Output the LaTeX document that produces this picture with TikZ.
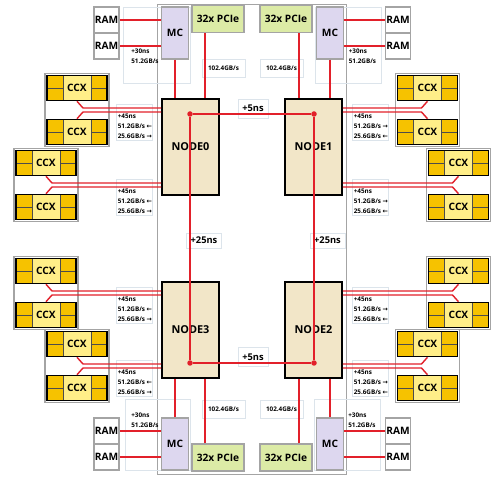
\documentclass[tikz,border=0pt]{standalone}
\usepackage{fontspec}
\setmainfont{Open Sans}
\newfontfamily\arrowfont{DejaVu Sans}
\usetikzlibrary{positioning,calc}

\definecolor{linkred}{HTML}{E2202A}
\definecolor{nodefill}{HTML}{F2E6C8}
\definecolor{mcfill}{HTML}{DDD7EF}
\definecolor{pciefill}{HTML}{DCEBA6}
\definecolor{ccxgold}{HTML}{F6C200}
\definecolor{ccxlight}{HTML}{FFEE88}
\definecolor{faint}{HTML}{DCE4EB}
\definecolor{boxgray}{HTML}{A4A4A4}

\tikzset{
  chassis/.style={draw=boxgray,line width=0.5pt,minimum width=3.78cm,minimum height=9.4cm,inner sep=0pt},
  numa/.style={draw=black,line width=1.1pt,fill=nodefill,minimum width=1.14cm,minimum height=1.92cm,inner sep=0pt,font=\fontsize{6.2}{7}\selectfont\bfseries},
  mcbox/.style={draw=boxgray,line width=0.6pt,fill=mcfill,minimum width=0.54cm,minimum height=1.04cm,inner sep=0pt,font=\fontsize{5.8}{7}\selectfont\bfseries},
  pciebox/.style={draw=boxgray,line width=0.6pt,fill=pciefill,minimum width=1.04cm,minimum height=0.54cm,inner sep=0pt,font=\fontsize{5.8}{7}\selectfont\bfseries},
  rambox/.style={draw=boxgray,line width=0.6pt,fill=white,minimum width=0.5cm,minimum height=0.52cm,inner sep=0pt,font=\fontsize{5.8}{7}\selectfont\bfseries},
  ccxframe/.style={draw=boxgray,line width=1pt,fill=white,minimum width=1.28cm,minimum height=1.46cm,inner sep=0pt},
  ccx/.style={draw=black,line width=0.9pt,fill=ccxgold,minimum width=1.2cm,minimum height=0.5cm,inner sep=0pt,
    font=\fontsize{5.8}{7}\selectfont\bfseries,
    path picture={
      \fill[ccxlight] ([xshift=0.32cm]path picture bounding box.south west) rectangle ([xshift=-0.32cm]path picture bounding box.north east);
      \draw[line width=0.4pt,black!70]
        ([xshift=0.32cm]path picture bounding box.south west) -- ([xshift=0.32cm]path picture bounding box.north west)
        ([xshift=-0.32cm]path picture bounding box.south east) -- ([xshift=-0.32cm]path picture bounding box.north east)
        (path picture bounding box.west) -- ([xshift=0.32cm]path picture bounding box.west)
        (path picture bounding box.east) -- ([xshift=-0.32cm]path picture bounding box.east);
    }},
  link/.style={draw=linkred,line width=1.1pt},
  fork/.style={draw=linkred,line width=0.8pt},
  hop/.style={circle,fill=linkred,inner sep=0pt,minimum size=0.11cm},
  faintbox/.style={draw=faint,line width=0.5pt},
  lat/.style={faintbox,inner sep=0pt,font=\fontsize{5.3}{6}\selectfont\bfseries},
  bw/.style={faintbox,inner sep=0pt,minimum width=0.86cm,minimum height=0.36cm,font=\fontsize{3.6}{5.7}\selectfont\bfseries},
  note/.style={inner sep=0pt,align=left,font=\fontsize{3.6}{5.7}\selectfont\bfseries},
}

\begin{document}
\begin{tikzpicture}[x=0.02cm,y=-0.02cm]
\useasboundingbox (0,0) rectangle (500,479);

\node[chassis] (socket) at (252.3,239) {};

% memory side boxes
\draw[faintbox] (123,7) rectangle (190,83);
\draw[faintbox] (315,7) rectangle (381,83);
\draw[faintbox] (125,399) rectangle (190,470);
\draw[faintbox] (314,399) rectangle (380,470);

% numa nodes
\node[numa] (node0) at (190.5,147) {NODE0};
\node[numa] (node1) at (313.5,147) {NODE1};
\node[numa] (node3) at (190.5,330) {NODE3};
\node[numa] (node2) at (313.5,330) {NODE2};

% memory controllers, pcie, dimms
\node[mcbox] (mc0) at (175,33) {MC};
\node[mcbox] (mc1) at (330,33) {MC};
\node[mcbox] (mc3) at (175,444) {MC};
\node[mcbox] (mc2) at (330,444) {MC};
\node[pciebox] (pcie0) at (218,19) {32x PCIe};
\node[pciebox] (pcie1) at (286,19) {32x PCIe};
\node[pciebox] (pcie3) at (218,457.5) {32x PCIe};
\node[pciebox] (pcie2) at (286,457.5) {32x PCIe};
\node[rambox] (ram0a) at (106.5,20) {RAM};
\node[rambox] (ram0b) at (106.5,46) {RAM};
\node[rambox] (ram1a) at (398,20) {RAM};
\node[rambox] (ram1b) at (398,46) {RAM};
\node[rambox] (ram3a) at (106.5,431) {RAM};
\node[rambox] (ram3b) at (106.5,457) {RAM};
\node[rambox] (ram2a) at (398,431) {RAM};
\node[rambox] (ram2b) at (398,457) {RAM};

\foreach \r/\m in {ram0a/mc0,ram0b/mc0,ram3a/mc3,ram3b/mc3}
  \draw[link] (\r.east) -- (\r.east -| \m.west);
\foreach \r/\m in {ram1a/mc1,ram1b/mc1,ram2a/mc2,ram2b/mc2}
  \draw[link] (\r.west) -- (\r.west -| \m.east);

\node[note,anchor=north west] (mem0) at (131,48.5) {+30ns\\51.2GB/s};
\node[note,anchor=north west] (mem1) at (348.5,48.5) {+30ns\\51.2GB/s};
\node[note,anchor=north west] (mem3) at (131,412.5) {+30ns\\51.2GB/s};
\node[note,anchor=north west] (mem2) at (348,412.5) {+30ns\\51.2GB/s};

\node[bw] (bw0) at (223.5,68) {102.4GB/s};
\node[bw] (bw1) at (281.5,68) {102.4GB/s};
\node[bw] (bw3) at (223.5,409.5) {102.4GB/s};
\node[bw] (bw2) at (281.5,409.5) {102.4GB/s};

% infinity fabric between nodes
\node[lat,minimum width=0.6cm,minimum height=0.38cm] (lat01) at (253,108.5) {+5ns};
\node[lat,minimum width=0.6cm,minimum height=0.38cm] (lat32) at (253,357) {+5ns};
\node[lat,minimum width=0.7cm,minimum height=0.3cm] (lat03) at (204,240.5) {+25ns};
\node[lat,minimum width=0.7cm,minimum height=0.3cm] (lat12) at (327.5,240.5) {+25ns};

\node[hop] (hop0) at (190,114) {};
\node[hop] (hop1) at (314,114) {};
\node[hop] (hop3) at (190,363) {};
\node[hop] (hop2) at (314,363) {};
\draw[link] (hop0) -- (hop1) -- (hop2) -- (hop3) -- (hop0);

% ccx pairs
\foreach \g/\cx/\cy/\jx/\nd/\ax/\arA/\arB in {
    L1/77/110/83/node0.west/116/←/→,
    L2/46/185/52/node0.west/116/←/→,
    L3/46/293/52/node3.west/116/←/→,
    L4/77/366/83/node3.west/116/←/→,
    R1/427.5/110/421.5/node1.east/352/→/←,
    R2/458.5/185/452.5/node1.east/352/→/←,
    R3/458.5/293/452.5/node2.east/352/→/←,
    R4/427.5/366/421.5/node2.east/352/→/←}{
  \node[ccxframe] (\g f) at (\cx,\cy) {};
  \node[ccx] (\g a) at (\cx,\cy-22) {CCX};
  \node[ccx] (\g b) at (\cx,\cy+22) {CCX};
  \draw[faintbox] (\ax,\cy-6) rectangle ++(36,36);
  \node[note,anchor=north west] (\g n) at (\ax+1.5,\cy+3.5)
    {+45ns\\51.2GB/s {\arrowfont\arA}\\25.6GB/s {\arrowfont\arB}};
  \coordinate (\g u) at (\jx,\cy-2);
  \coordinate (\g d) at (\jx,\cy+2);
  \draw[fork] (\g a.south) -- (\g u) -- (\g u -| \nd);
  \draw[fork] (\g b.north) -- (\g d) -- (\g d -| \nd);
}

% memory and io links
\coordinate (pp0) at ($(pcie0.south)+(-13,0)$);
\coordinate (pp1) at ($(pcie1.south)+(13,0)$);
\coordinate (pp3) at ($(pcie3.north)+(-13,0)$);
\coordinate (pp2) at ($(pcie2.north)+(13,0)$);
\draw[link] (mc0.south) -- (node0.north -| mc0.south);
\draw[link] (mc1.south) -- (node1.north -| mc1.south);
\draw[link] (mc3.north) -- (node3.south -| mc3.north);
\draw[link] (mc2.north) -- (node2.south -| mc2.north);
\draw[link] (pp0) -- (node0.north -| pp0);
\draw[link] (pp1) -- (node1.north -| pp1);
\draw[link] (pp3) -- (node3.south -| pp3);
\draw[link] (pp2) -- (node2.south -| pp2);
\end{tikzpicture}
\end{document}
